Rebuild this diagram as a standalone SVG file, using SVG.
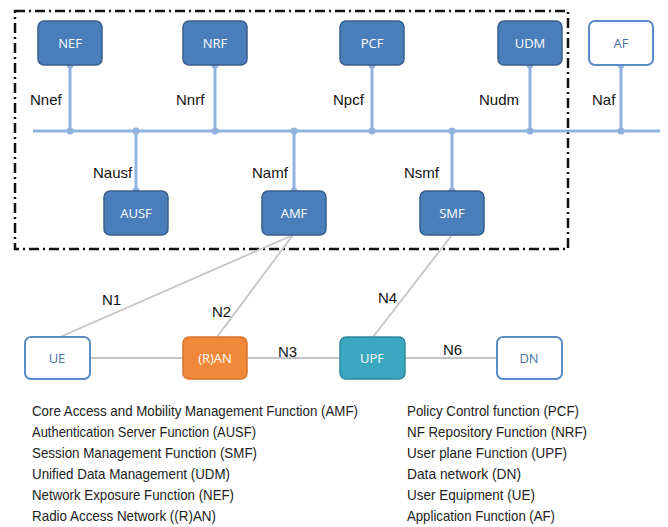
<svg xmlns="http://www.w3.org/2000/svg" width="668" height="527" viewBox="0 0 668 527">
<style>
.nf{fill:#4a7ebb;stroke:#385d8a;stroke-width:1.5}
.wh{fill:#fff;stroke:#5b8bc9;stroke-width:2}
.ran{fill:#f0883a;stroke:#d9742a;stroke-width:1.5}
.upf{fill:#3ba6bf;stroke:#2e8aa0;stroke-width:1.5}
.lt{font-family:"Open Sans","Liberation Sans",sans-serif;font-size:13px;text-anchor:middle;fill:#fff}
.lb{font-family:"Open Sans","Liberation Sans",sans-serif;font-size:13px;text-anchor:middle;fill:#4a6fa0}
.if{font-family:"Liberation Sans",Arial,sans-serif;font-size:15px;fill:#111}
.lg{font-family:"Liberation Sans",Arial,sans-serif;font-size:15px;fill:#222}
.bus{stroke:#8fb2df;stroke-width:3;fill:none}
.gl{stroke:#c4c4c4;stroke-width:1.8;fill:none}
.dot{fill:#8fb2df}
</style>
<rect x="15" y="11" width="553" height="238" fill="none" stroke="#111" stroke-width="2.5" stroke-dasharray="10,4,2,4"/>
<g id="connectors">
<line class="bus" x1="33" y1="131" x2="660" y2="131"/>
<line class="bus" x1="70" y1="65" x2="70" y2="131"/>
<line class="bus" x1="215" y1="65" x2="215" y2="131"/>
<line class="bus" x1="372" y1="65" x2="372" y2="131"/>
<line class="bus" x1="530" y1="65" x2="530" y2="131"/>
<line class="bus" x1="621" y1="65" x2="621" y2="131"/>
<line class="bus" x1="136" y1="131" x2="136" y2="191"/>
<line class="bus" x1="294" y1="131" x2="294" y2="191"/>
<line class="bus" x1="452" y1="131" x2="452" y2="191"/>
<g class="dot">
<circle cx="70" cy="65" r="3.5"/><circle cx="70" cy="131" r="3.5"/>
<circle cx="215" cy="65" r="3.5"/><circle cx="215" cy="131" r="3.5"/>
<circle cx="372" cy="65" r="3.5"/><circle cx="372" cy="131" r="3.5"/>
<circle cx="530" cy="65" r="3.5"/><circle cx="530" cy="131" r="3.5"/>
<circle cx="621" cy="65" r="3.5"/><circle cx="621" cy="131" r="3.5"/>
<circle cx="136" cy="131" r="3.5"/><circle cx="136" cy="191" r="3.5"/>
<circle cx="294" cy="131" r="3.5"/><circle cx="294" cy="191" r="3.5"/>
<circle cx="452" cy="131" r="3.5"/><circle cx="452" cy="191" r="3.5"/>
</g>
<line class="gl" x1="60" y1="337" x2="293" y2="235"/>
<line class="gl" x1="217" y1="337" x2="293" y2="235"/>
<line class="gl" x1="373" y1="337" x2="452" y2="235"/>
<line class="gl" x1="90" y1="358" x2="183" y2="358"/>
<line class="gl" x1="247" y1="358" x2="340" y2="358"/>
<line class="gl" x1="405" y1="358" x2="497" y2="358"/>
<text class="if" x="30" y="105">Nnef</text>
<text class="if" x="176" y="105">Nnrf</text>
<text class="if" x="333" y="105">Npcf</text>
<text class="if" x="479" y="105">Nudm</text>
<text class="if" x="592" y="105">Naf</text>
<text class="if" x="93" y="178">Nausf</text>
<text class="if" x="252" y="178">Namf</text>
<text class="if" x="404" y="178">Nsmf</text>
<text class="if" x="102" y="305">N1</text>
<text class="if" x="212" y="317">N2</text>
<text class="if" x="278" y="357">N3</text>
<text class="if" x="378" y="303">N4</text>
<text class="if" x="443" y="355">N6</text>
</g>
<g id="NEF"><rect class="nf" x="38" y="21" width="64" height="44" rx="6"/><text class="lt" x="70" y="48">NEF</text></g>
<g id="NRF"><rect class="nf" x="183" y="21" width="64" height="44" rx="6"/><text class="lt" x="215" y="48">NRF</text></g>
<g id="PCF"><rect class="nf" x="340" y="21" width="64" height="44" rx="6"/><text class="lt" x="372" y="48">PCF</text></g>
<g id="UDM"><rect class="nf" x="498" y="21" width="64" height="44" rx="6"/><text class="lt" x="530" y="48">UDM</text></g>
<g id="AF"><rect class="wh" x="589" y="21" width="64" height="44" rx="6"/><text class="lb" x="621" y="48">AF</text></g>
<g id="AUSF"><rect class="nf" x="104" y="191" width="64" height="44" rx="6"/><text class="lt" x="136" y="218">AUSF</text></g>
<g id="AMF"><rect class="nf" x="262" y="191" width="64" height="44" rx="6"/><text class="lt" x="294" y="218">AMF</text></g>
<g id="SMF"><rect class="nf" x="420" y="191" width="64" height="44" rx="6"/><text class="lt" x="452" y="218">SMF</text></g>
<g id="UE"><rect class="wh" x="25" y="337" width="65" height="42" rx="6"/><text class="lb" x="57" y="363">UE</text></g>
<g id="RAN"><rect class="ran" x="183" y="337" width="64" height="42" rx="6"/><text class="lt" x="215" y="363">(R)AN</text></g>
<g id="UPF"><rect class="upf" x="340" y="337" width="65" height="42" rx="6"/><text class="lt" x="372" y="363">UPF</text></g>
<g id="DN"><rect class="wh" x="497" y="337" width="65" height="42" rx="6"/><text class="lb" x="529" y="363">DN</text></g>
<g id="legend">
<text class="lg" x="32" y="416" textLength="326" lengthAdjust="spacingAndGlyphs">Core Access and Mobility Management Function (AMF)</text>
<text class="lg" x="32" y="437" textLength="224" lengthAdjust="spacingAndGlyphs">Authentication Server Function (AUSF)</text>
<text class="lg" x="32" y="458" textLength="225" lengthAdjust="spacingAndGlyphs">Session Management Function (SMF)</text>
<text class="lg" x="32" y="479" textLength="198" lengthAdjust="spacingAndGlyphs">Unified Data Management (UDM)</text>
<text class="lg" x="32" y="500" textLength="202" lengthAdjust="spacingAndGlyphs">Network Exposure Function (NEF)</text>
<text class="lg" x="32" y="521" textLength="184" lengthAdjust="spacingAndGlyphs">Radio Access Network ((R)AN)</text>
<text class="lg" x="407" y="416" textLength="172" lengthAdjust="spacingAndGlyphs">Policy Control function (PCF)</text>
<text class="lg" x="407" y="437" textLength="180" lengthAdjust="spacingAndGlyphs">NF Repository Function (NRF)</text>
<text class="lg" x="407" y="458" textLength="160" lengthAdjust="spacingAndGlyphs">User plane Function (UPF)</text>
<text class="lg" x="407" y="479" textLength="114" lengthAdjust="spacingAndGlyphs">Data network (DN)</text>
<text class="lg" x="407" y="500" textLength="128" lengthAdjust="spacingAndGlyphs">User Equipment (UE)</text>
<text class="lg" x="407" y="521" textLength="148" lengthAdjust="spacingAndGlyphs">Application Function (AF)</text>
</g>
</svg>
